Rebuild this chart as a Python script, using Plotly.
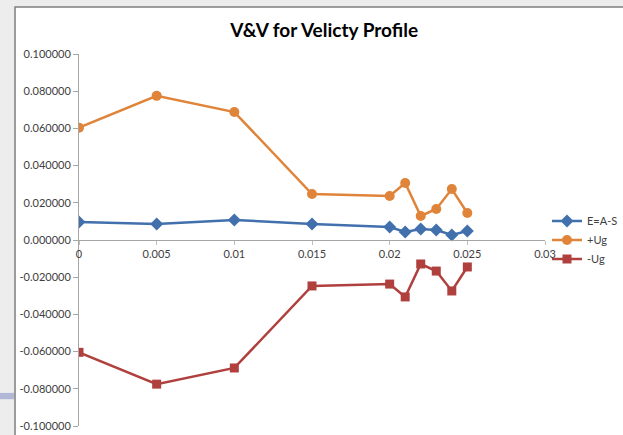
import plotly.graph_objects as go

# Distance values (m) and velocity comparison series
x_vals = [0, 0.005, 0.01, 0.015, 0.02, 0.021, 0.022, 0.023, 0.024, 0.025]
e_a_s = [0.0097, 0.0086, 0.0108, 0.0086, 0.0070, 0.0043, 0.0059, 0.0054, 0.0027, 0.0048]
plus_ug = [0.0604, 0.0775, 0.0688, 0.0247, 0.0237, 0.0306, 0.0129, 0.0167, 0.0274, 0.0145]
minus_ug = [-0.0604, -0.0775, -0.0688, -0.0247, -0.0237, -0.0306, -0.0129, -0.0167, -0.0274, -0.0145]

y_tick_vals = [0.1, 0.08, 0.06, 0.04, 0.02, 0.0, -0.02, -0.04, -0.06, -0.08, -0.1]
y_tick_text = ["0.100000", "0.080000", "0.060000", "0.040000", "0.020000", "0.000000",
               "-0.020000", "-0.040000", "-0.060000", "-0.080000", "-0.100000"]
x_tick_vals = [0, 0.005, 0.01, 0.015, 0.02, 0.025, 0.03]
x_tick_text = ["0", "0.005", "0.01", "0.015", "0.02", "0.025", "0.03"]

BLUE = "#4170AD"
ORANGE = "#E0843A"
RED = "#B0403D"
FONT = "Lato"

fig = go.Figure()
fig.add_trace(go.Scatter(x=x_vals, y=e_a_s, name="E=A-S", mode="lines+markers",
                         line=dict(color=BLUE, width=2.5),
                         marker=dict(symbol="diamond", size=10, color=BLUE)))
fig.add_trace(go.Scatter(x=x_vals, y=plus_ug, name="+Ug", mode="lines+markers",
                         line=dict(color=ORANGE, width=2.5),
                         marker=dict(symbol="circle", size=10, color=ORANGE)))
fig.add_trace(go.Scatter(x=x_vals, y=minus_ug, name="-Ug", mode="lines+markers",
                         line=dict(color=RED, width=2.5),
                         marker=dict(symbol="square", size=9, color=RED)))

# slide backdrop: white chart frame with a grey border, plus a small accent strip
fig.add_shape(type="rect", xref="paper", yref="paper",
              x0=-0.1373, x1=1.5, y0=-0.5, y1=1.1263,
              fillcolor="white", line=dict(color="#7f7f7f", width=1.5), layer="below")
fig.add_shape(type="rect", xref="paper", yref="paper",
              x0=-0.2, x1=-0.1395, y0=0.072, y1=0.089,
              fillcolor="#b3b7d6", line=dict(width=0), layer="below")

fig.update_layout(
    width=623, height=435,
    margin=dict(l=79, r=78, t=54, b=9, autoexpand=False),
    paper_bgcolor="#ededed",
    plot_bgcolor="rgba(0,0,0,0)",
    font=dict(family=FONT, size=11, color="#404040"),
    title=dict(text="<b>V&V for Velicty Profile</b>", x=0.526, xref="paper",
               y=1 - 30 / 435, yref="container", xanchor="center", yanchor="middle",
               font=dict(family=FONT, size=19, color="#000000")),
    xaxis=dict(range=[0, 0.03], tickvals=x_tick_vals, ticktext=x_tick_text,
               showgrid=False, zeroline=False, showline=True, linecolor="#a6a6a6",
               linewidth=1, ticks="outside", ticklen=4, tickcolor="#bfbfbf",
               anchor="free", position=0.5, automargin=False,
               tickfont=dict(size=11, color="#404040")),
    yaxis=dict(range=[-0.1, 0.1], tickvals=y_tick_vals, ticktext=y_tick_text,
               showgrid=False, zeroline=False, showline=True, linecolor="#a6a6a6",
               linewidth=1, ticks="outside", ticklen=5, tickcolor="#a6a6a6",
               automargin=False, tickfont=dict(size=11, color="#404040")),
    legend=dict(xref="container", yref="container", x=547 / 623, xanchor="left",
                y=1 - 240 / 435, yanchor="middle",
                bgcolor="rgba(0,0,0,0)", font=dict(size=11, color="#404040"),
                itemwidth=30, tracegroupgap=0),
    showlegend=True,
)

fig.write_html("out.html")
